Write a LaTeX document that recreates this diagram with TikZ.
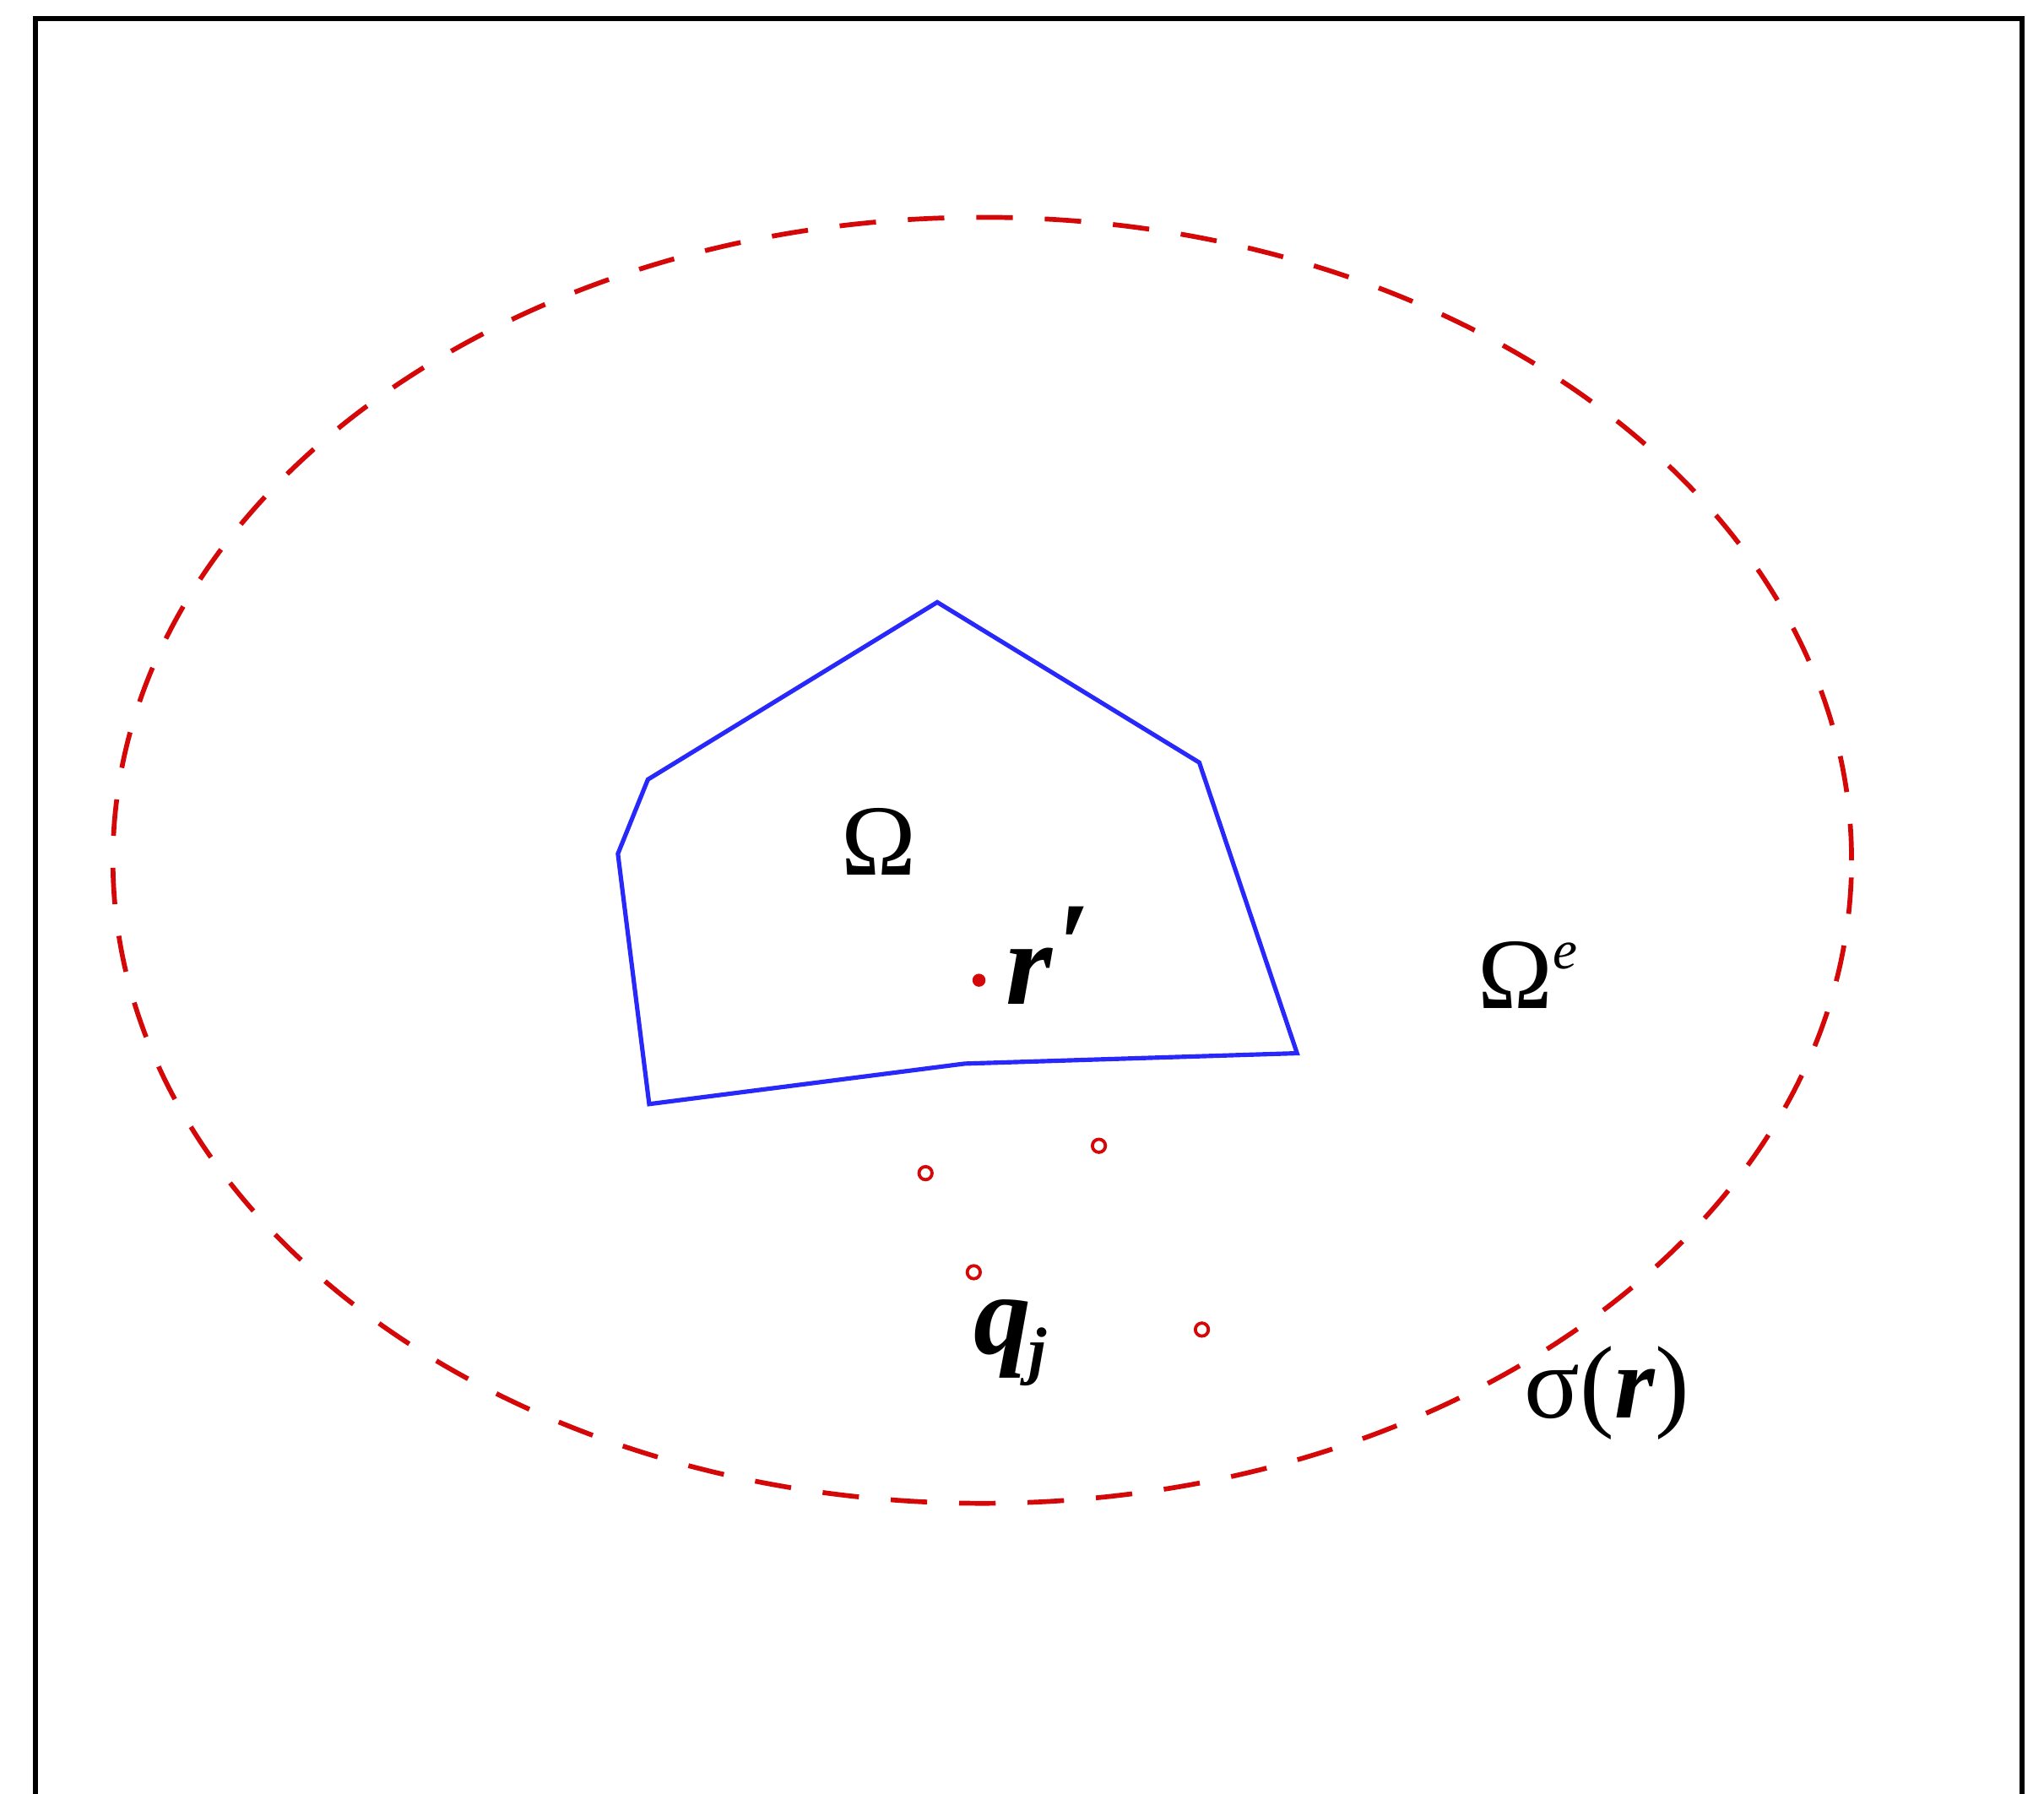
\documentclass[tikz,border=0pt]{standalone}
\usepackage{fontspec}
\setmainfont{Liberation Serif}
\definecolor{dred}{RGB}{212,8,8}
\definecolor{pblue}{RGB}{40,40,250}
\begin{document}
\begin{tikzpicture}[x=0.01cm,y=-0.01cm,
  frame/.style={line width=1.1pt,black},
  bound/.style={dred,line width=1.05pt,dash pattern=on 0.28cm off 0.245cm},
  poly/.style={pblue,line width=0.95pt,line join=miter},
  src/.style={circle,draw=dred,line width=0.7pt,inner sep=0pt,minimum size=0.1cm},
  lab/.style={inner sep=0pt,font=\fontsize{22}{24}\selectfont}]
\useasboundingbox (0,0) rectangle (1568,1376);
\draw[frame] (27,1380) -- (27,14) -- (1551,14) -- (1551,1380);
\draw[bound] (753.5,660) ellipse [x radius=6.665cm, y radius=4.93cm];
\coordinate (p1) at (719,462);
\coordinate (p2) at (920,585);
\coordinate (p3) at (995,808);
\coordinate (p4) at (740,816);
\coordinate (p5) at (498,847);
\coordinate (p6) at (474,655);
\coordinate (p7) at (497,598);
\draw[poly] (p1) -- (p2) -- (p3) -- (p4) -- (p5) -- (p6) -- (p7) -- cycle;
\node[lab] (om) at (674,646) {Ω};
\node[circle,fill=dred,inner sep=0pt,minimum size=0.1cm] (rp) at (751,752) {};
\node[lab,font=\fontsize{26}{28}\selectfont] (rl) at (804,733) {\textbf{\textit{r\kern0.03em\raisebox{0.35ex}{\char"2032}}}};
\node[lab] (ome) at (1172,748) {Ω\raisebox{0.85ex}{\fontsize{12}{13}\selectfont\textit{e}}};
\node[src] (q1) at (710,900) {};
\node[src] (q2) at (843,879) {};
\node[src] (q3) at (747,976) {};
\node[src] (q4) at (922,1020) {};
\node[lab,font=\fontsize{25}{27}\selectfont] (ql) at (775,1030) {\textbf{\textit{q}}\kern-0.02em\raisebox{-0.35ex}{\fontsize{14}{15}\selectfont\textbf{\textit{j}}}};
\node[lab,font=\fontsize{22.5}{24}\selectfont] (sl) at (1233,1069) {σ(\textbf{\textit{r}})};
\end{tikzpicture}
\end{document}
